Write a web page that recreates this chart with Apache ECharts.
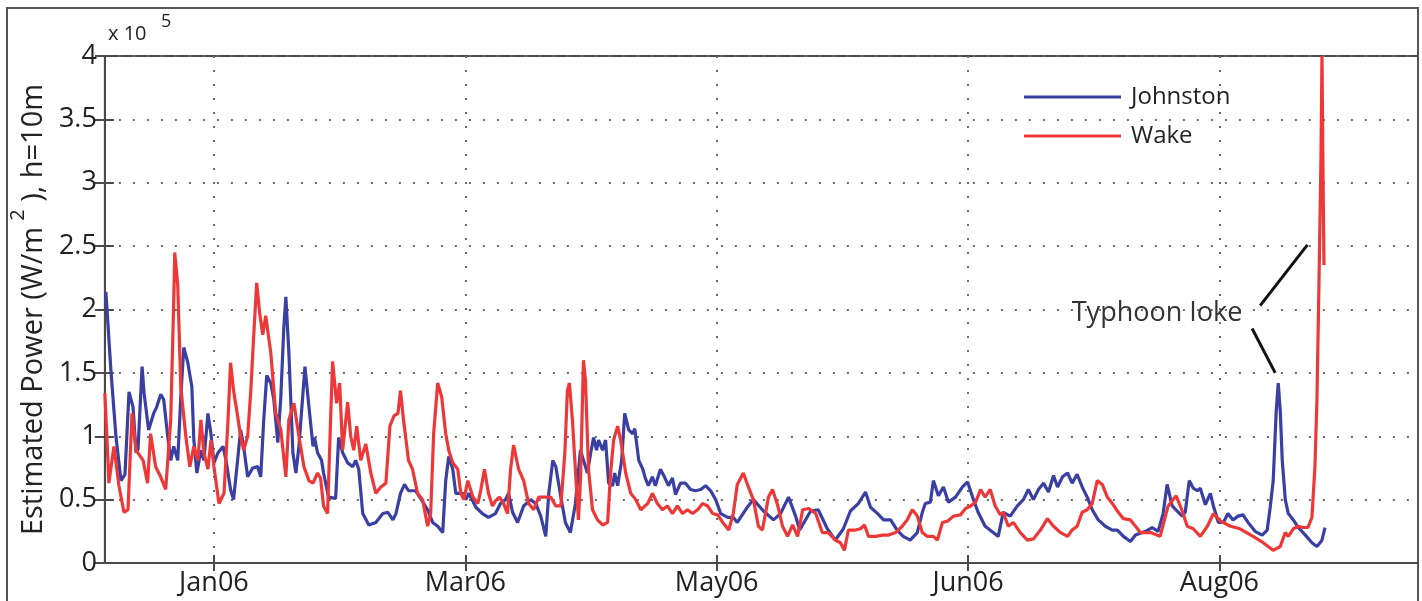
<!DOCTYPE html>
<html>
<head>
<meta charset="utf-8">
<script src="https://cdn.jsdelivr.net/npm/echarts/dist/echarts.min.js"></script>
<style>
html,body{margin:0;padding:0;background:#fff;}
#chart{width:1422px;height:601px;}
</style>
</head>
<body>
<div id="chart"></div>
<script>
// ---- data (x in days from the left edge of the axis, y in units of 1e5 W/m^2) ----
const tickDays = [21.7, 71.7, 121.7, 171.7, 221.7];
const tickLabels = ['Jan06', 'Mar06', 'May06', 'Jun06', 'Aug06'];
const yTicks = [0, 0.5, 1, 1.5, 2, 2.5, 3, 3.5, 4];

const johnstonDays = [0.2,1.2,2.2,3.2,4.0,4.8,5.6,6.2,6.6,7.4,7.8,8.7,9.7,10.3,11.1,11.7,12.5,13.1,13.7,14.5,15.1,15.7,16.5,17.3,17.7,18.3,19.1,19.7,20.5,21.1,21.7,22.5,23.5,24.1,25.0,25.6,26.4,27.0,27.6,28.4,29.4,30.4,31.0,31.6,32.2,33.0,33.6,34.4,35.0,35.6,36.0,36.6,37.4,38.0,38.6,39.8,40.6,41.4,41.7,42.3,43.1,43.5,44.5,45.9,46.5,47.3,48.3,49.3,49.9,50.5,51.3,52.5,53.9,55.3,56.3,57.3,57.9,58.8,59.6,60.4,61.8,62.8,64.2,65.2,66.2,67.2,67.8,68.4,69.2,69.8,71.2,71.8,72.4,73.8,75.1,76.3,77.7,78.7,79.7,80.3,81.1,82.1,83.3,84.7,85.7,86.7,87.7,88.3,89.1,89.7,90.7,91.6,92.6,93.6,94.6,95.2,96.0,96.6,97.2,97.8,98.2,99.0,99.6,100.2,101.0,101.4,102.0,102.8,103.4,104.2,105.0,105.4,106.2,107.0,107.5,108.1,108.9,109.5,110.5,111.3,112.1,112.9,113.5,114.5,115.5,116.5,117.5,118.5,119.5,120.5,121.5,122.5,123.9,125.0,125.8,127.8,129.0,131.0,133.0,134.4,136.0,137.4,138.2,140.4,141.9,143.7,145.3,146.9,148.3,149.9,151.3,152.3,153.7,154.9,156.3,157.6,158.8,160.2,161.6,162.6,163.2,164.2,164.8,165.8,166.8,167.8,169.2,170.6,171.6,172.6,173.7,175.1,176.7,177.7,178.7,180.1,181.5,182.7,183.7,184.7,185.7,186.7,187.7,188.7,189.5,190.5,191.5,192.4,193.4,194.4,195.4,196.4,197.6,199.0,200.4,201.4,202.6,204.0,205.0,207.0,208.3,209.5,210.5,211.3,212.3,213.3,214.3,214.9,215.7,216.5,217.3,217.9,218.9,219.9,220.5,221.5,222.5,223.4,224.4,225.4,226.4,227.4,228.8,230.2,231.2,231.8,232.4,233.0,233.4,233.8,234.2,234.8,235.4,236.4,237.4,238.8,240.1,241.1,242.1,242.7];
const johnstonVals = [2.14,1.52,1.00,0.65,0.70,1.35,1.23,0.87,0.90,1.55,1.34,1.05,1.18,1.23,1.33,1.29,1.00,0.81,0.92,0.81,1.31,1.70,1.58,1.39,0.97,0.71,0.89,0.81,1.18,1.02,0.79,0.87,0.92,0.81,0.58,0.50,0.81,1.05,0.92,0.68,0.75,0.76,0.68,1.13,1.48,1.42,1.29,0.95,1.31,1.86,2.10,1.66,0.87,0.71,0.92,1.55,1.23,0.92,0.99,0.87,0.81,0.71,0.52,0.51,0.99,0.87,0.79,0.76,0.81,0.74,0.39,0.30,0.32,0.39,0.40,0.34,0.39,0.55,0.62,0.57,0.57,0.51,0.42,0.32,0.29,0.24,0.65,0.84,0.74,0.55,0.55,0.50,0.55,0.44,0.39,0.36,0.39,0.47,0.50,0.55,0.40,0.32,0.45,0.50,0.47,0.37,0.21,0.55,0.81,0.76,0.52,0.32,0.24,0.47,0.89,0.81,0.71,0.86,0.99,0.89,0.97,0.89,0.97,0.63,0.61,0.71,0.61,0.81,1.18,1.05,1.02,1.06,0.81,0.74,0.67,0.61,0.68,0.61,0.74,0.68,0.61,0.67,0.54,0.63,0.63,0.58,0.57,0.58,0.61,0.57,0.50,0.39,0.36,0.36,0.32,0.44,0.50,0.41,0.34,0.39,0.52,0.37,0.26,0.41,0.42,0.27,0.18,0.27,0.41,0.47,0.56,0.44,0.39,0.34,0.34,0.26,0.21,0.18,0.24,0.40,0.47,0.48,0.65,0.53,0.60,0.48,0.52,0.60,0.64,0.52,0.40,0.29,0.24,0.21,0.40,0.37,0.45,0.50,0.58,0.50,0.58,0.63,0.56,0.69,0.60,0.68,0.71,0.63,0.70,0.60,0.52,0.42,0.34,0.29,0.26,0.26,0.21,0.17,0.22,0.25,0.28,0.25,0.39,0.62,0.45,0.41,0.37,0.40,0.65,0.59,0.57,0.59,0.46,0.55,0.45,0.32,0.32,0.39,0.34,0.37,0.38,0.32,0.25,0.22,0.26,0.44,0.65,1.20,1.42,1.20,0.81,0.50,0.39,0.34,0.28,0.22,0.16,0.13,0.18,0.28];

const wakeDays = [0.0,0.4,0.8,1.8,2.8,3.8,4.6,5.4,6.2,7.6,8.5,9.1,10.1,11.1,12.1,13.1,13.7,13.9,14.5,15.1,16.1,16.9,17.7,18.5,19.1,19.7,20.5,21.1,21.7,22.7,23.7,24.5,25.0,25.6,26.4,27.0,27.6,28.4,29.0,29.6,30.2,30.8,31.4,32.0,33.0,34.0,35.0,36.0,36.6,37.6,38.6,39.6,40.6,41.4,42.3,42.9,43.5,44.3,44.9,45.3,46.1,46.7,47.3,48.3,48.9,49.5,50.1,50.9,51.9,52.9,53.9,54.9,55.9,56.7,57.5,58.3,58.8,59.4,60.4,61.2,62.2,63.2,64.2,64.8,65.4,66.2,67.0,67.8,68.4,69.2,70.2,70.8,71.4,72.2,73.2,74.2,74.8,75.5,76.3,77.1,77.7,78.5,79.3,80.1,80.7,81.3,82.3,83.3,84.3,85.3,86.3,87.3,88.7,89.7,90.7,91.5,92.0,92.4,93.0,93.8,94.2,94.6,95.2,95.6,96.2,97.0,98.0,99.0,100.0,100.6,101.2,102.0,102.6,103.6,104.6,105.6,106.6,108.0,108.9,109.9,110.9,111.9,112.9,113.9,114.9,115.9,116.9,117.9,118.9,119.9,120.9,121.9,122.9,124.1,125.0,125.8,127.0,128.0,129.0,130.0,130.8,132.0,132.8,133.8,134.8,135.8,136.8,137.8,138.8,140.0,141.4,142.7,143.9,145.3,146.3,147.1,147.9,149.3,150.3,151.1,151.9,153.3,154.7,155.9,157.3,158.6,159.6,160.6,161.6,162.6,163.6,164.8,165.6,166.6,167.6,168.8,170.2,171.2,172.2,173.2,174.2,175.1,176.1,177.1,178.1,178.7,179.7,180.7,182.1,183.5,184.7,186.1,187.5,188.7,190.1,191.5,192.4,193.4,194.4,195.4,196.4,197.4,198.4,199.4,200.4,201.4,202.6,204.0,206.0,208.0,209.9,211.5,213.1,214.3,215.3,216.5,217.9,219.3,220.5,221.9,223.9,225.8,228.4,230.4,232.4,233.8,234.8,235.4,236.4,237.4,238.3,239.3,240.1,240.7,241.1,241.5,241.9,242.1,242.3,242.5];
const wakeVals = [1.34,1.00,0.63,0.92,0.61,0.40,0.42,1.18,0.89,0.81,0.63,1.02,0.76,0.68,0.58,1.13,2.07,2.45,2.19,1.39,1.00,0.76,0.92,0.81,1.13,0.87,0.74,0.97,0.76,0.47,0.55,1.13,1.58,1.36,1.16,1.00,0.89,1.00,1.34,1.79,2.21,1.97,1.80,1.95,1.66,1.18,1.05,0.68,1.13,1.26,1.00,0.76,0.65,0.63,0.71,0.67,0.45,0.39,1.13,1.59,1.26,1.42,0.89,1.27,1.00,0.89,1.08,0.81,0.94,0.71,0.55,0.60,0.63,1.08,1.16,1.18,1.36,1.13,0.81,0.74,0.55,0.50,0.29,0.39,1.02,1.42,1.31,1.02,0.89,0.79,0.74,0.55,0.50,0.65,0.52,0.47,0.58,0.74,0.55,0.45,0.49,0.52,0.47,0.39,0.74,0.93,0.74,0.65,0.47,0.42,0.52,0.52,0.52,0.45,0.45,0.87,1.36,1.42,1.13,0.60,0.34,0.65,1.60,1.44,0.74,0.42,0.34,0.30,0.32,0.71,0.97,1.08,0.97,0.71,0.55,0.50,0.42,0.47,0.55,0.47,0.42,0.45,0.39,0.45,0.39,0.42,0.39,0.42,0.47,0.45,0.39,0.38,0.32,0.26,0.39,0.62,0.71,0.60,0.50,0.29,0.26,0.52,0.58,0.46,0.29,0.21,0.30,0.21,0.42,0.43,0.39,0.24,0.24,0.18,0.16,0.10,0.26,0.26,0.27,0.30,0.21,0.21,0.22,0.22,0.24,0.29,0.34,0.42,0.37,0.24,0.21,0.21,0.18,0.32,0.33,0.37,0.38,0.43,0.45,0.48,0.58,0.52,0.58,0.45,0.38,0.40,0.29,0.32,0.24,0.18,0.19,0.26,0.35,0.29,0.24,0.21,0.26,0.29,0.40,0.42,0.47,0.65,0.62,0.52,0.47,0.41,0.35,0.34,0.24,0.24,0.21,0.45,0.53,0.41,0.29,0.27,0.21,0.29,0.39,0.33,0.29,0.27,0.21,0.16,0.10,0.13,0.24,0.21,0.27,0.29,0.28,0.28,0.36,0.76,1.29,2.20,3.20,4.00,3.10,2.35];

// annotation anchors (data units)
const noteText = 'Typhoon Ioke';
const notePoint = [209.3, 1.97];
const noteLines = [
  [[229.8, 2.03], [239.2, 2.51]],
  [[228.2, 1.85], [232.8, 1.50]]
];

const xMin = 0, xMax = 261.2;

function pairs(xs, ys) { return xs.map((x, i) => [x, ys[i]]); }

const FONT = '"Open Sans", "Noto Sans", sans-serif';
const chart = echarts.init(document.getElementById('chart'), null, {renderer: 'canvas'});

const tickLabelFmt = function (v) {
  let best = 0, bd = 1e9;
  tickDays.forEach((t, i) => { const d = Math.abs(t - v); if (d < bd) { bd = d; best = i; } });
  return bd < 0.5 ? tickLabels[best] : '';
};

const option = {
  backgroundColor: '#fff',
  animation: false,
  grid: {left: 104, top: 56, right: 4, bottom: 38, show: true, borderColor: '#4a4a4a', borderWidth: 2, containLabel: false},
  legend: {
    orient: 'vertical', left: 1019, top: 80,
    itemWidth: 97, itemHeight: 3, itemGap: 15, icon: 'rect',
    textStyle: {fontFamily: FONT, fontSize: 24, color: '#222', lineHeight: 24, padding: [0, 0, 0, 5]},
    data: ['Johnston', 'Wake']
  },
  xAxis: [{
    type: 'value', min: xMin, max: xMax, position: 'bottom',
    axisLine: {show: true, lineStyle: {color: '#4a4a4a', width: 2}},
    axisTick: {show: true, inside: true, length: 8, customValues: tickDays, lineStyle: {color: '#4a4a4a', width: 2}},
    axisLabel: {show: true, customValues: tickDays, formatter: tickLabelFmt, fontFamily: FONT, fontSize: 27, color: '#222', margin: 7},
    splitLine: {show: true, lineStyle: {color: '#6a6a6a', width: 2, type: [2, 12]}}
  }, {
    type: 'value', min: xMin, max: xMax, position: 'top',
    axisLine: {show: false},
    axisTick: {show: true, inside: true, length: 8, customValues: tickDays, lineStyle: {color: '#4a4a4a', width: 2}},
    axisLabel: {show: false},
    splitLine: {show: false}
  }],
  yAxis: [{
    type: 'value', min: 0, max: 4, interval: 0.5, position: 'left',
    name: '{a|Estimated Power (W/m}{s|2}{a| ), h=10m}',
    nameLocation: 'middle', nameGap: 50,
    nameTextStyle: {
      rich: {
        a: {fontFamily: FONT, fontSize: 29, color: '#222', lineHeight: 40, verticalAlign: 'bottom'},
        s: {fontFamily: FONT, fontSize: 20, color: '#222', lineHeight: 22, verticalAlign: 'top', padding: [0, 0, 0, 6]}
      }
    },
    axisLine: {show: true, lineStyle: {color: '#4a4a4a', width: 2}},
    axisTick: {show: true, inside: true, length: 9, lineStyle: {color: '#4a4a4a', width: 2}},
    axisLabel: {fontFamily: FONT, fontSize: 27, color: '#222', margin: 8},
    splitLine: {show: true, lineStyle: {color: '#6a6a6a', width: 2, type: [2, 12]}}
  }, {
    type: 'value', min: 0, max: 4, interval: 0.5, position: 'right',
    axisLine: {show: false},
    axisTick: {show: true, inside: true, length: 10, lineStyle: {color: '#4a4a4a', width: 2}},
    axisLabel: {show: false},
    splitLine: {show: false}
  }],
  graphic: [
    {type: 'rect', silent: true, shape: {x: 7, y: 8, width: 1411, height: 620}, style: {fill: 'none', stroke: '#555', lineWidth: 2}},
    {type: 'text', silent: true, left: 108, top: 24, style: {text: 'x 10', font: '20px ' + FONT, fill: '#222'}},
    {type: 'text', silent: true, left: 161, top: 13, style: {text: '5', font: '18px ' + FONT, fill: '#222'}}
  ],
  series: [{
    name: 'Johnston', type: 'line', xAxisIndex: 0, yAxisIndex: 0,
    data: pairs(johnstonDays, johnstonVals),
    showSymbol: false, symbol: 'none', silent: true,
    lineStyle: {color: '#3a3fa3', width: 3.2}, itemStyle: {color: '#3a3fa3'}
  }, {
    name: 'Wake', type: 'line', xAxisIndex: 0, yAxisIndex: 0,
    data: pairs(wakeDays, wakeVals),
    showSymbol: false, symbol: 'none', silent: true,
    lineStyle: {color: '#ee3838', width: 3.2}, itemStyle: {color: '#ee3838'},
    markLine: {
      silent: true, symbol: ['none', 'none'], animation: false,
      lineStyle: {color: '#111', width: 3, type: 'solid'},
      label: {show: false},
      data: noteLines.map(l => [{coord: l[0]}, {coord: l[1]}])
    },
    markPoint: {
      silent: true, animation: false,
      symbol: 'circle', symbolSize: 1, itemStyle: {color: 'rgba(0,0,0,0)'},
      label: {show: true, position: 'inside', formatter: noteText, fontFamily: FONT, fontSize: 27, color: '#333'},
      data: [{coord: notePoint}]
    }
  }]
};
chart.setOption(option);
</script>
</body>
</html>
